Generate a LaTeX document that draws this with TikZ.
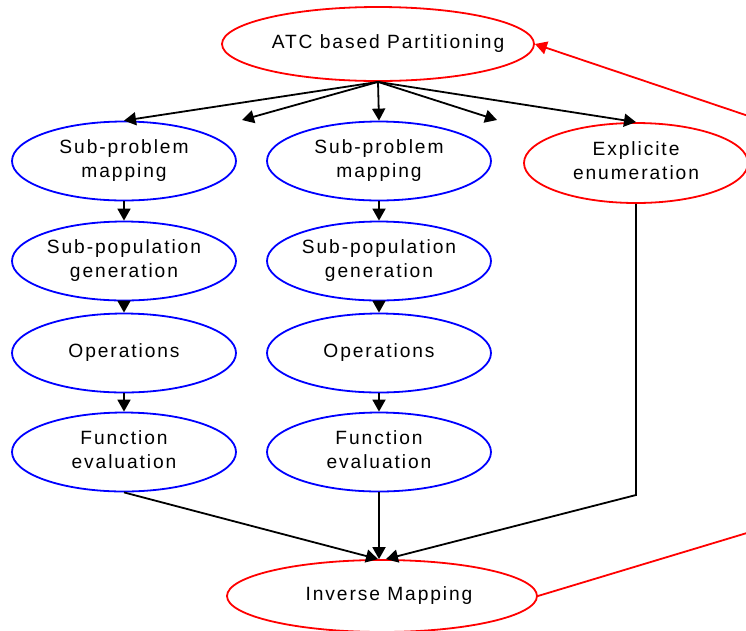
\documentclass[tikz,border=0pt]{standalone}
\usepackage{fontspec}
\setmainfont[LetterSpace=10]{Liberation Sans}
\usetikzlibrary{shapes.geometric,arrows.meta}

% centred text whose width does not enlarge the ellipse;
% the optional argument moves the text right by half its value
\newcommand{\twolines}[2]{\makebox[0pt]{\begin{tabular}{@{}c@{}}#1\\#2\end{tabular}}}
\newcommand{\oneline}[2][0pt]{\makebox[0pt]{\hspace*{#1}#2}}

\tikzset{
  stage/.style={ellipse, draw=blue, line width=1.8pt, inner sep=0pt,
    minimum width=224pt, minimum height=79pt},
  outer/.style={ellipse, draw=red, line width=1.8pt, inner sep=0pt},
  flow/.style={draw=black, line width=1.8pt,
    -{Triangle[length=12pt,width=13pt]}},
  loop/.style={draw=red, line width=1.8pt,
    -{Triangle[length=12pt,width=13pt]}},
}

\begin{document}
\begin{tikzpicture}[x=1pt,y=-1pt,
  every node/.style={font=\fontsize{19.2}{23.5}\selectfont, text=black}]
\clip (0,0) rectangle (746,630);

% top and bottom nodes
\node[outer, minimum width=312pt, minimum height=74pt] (atc) at (378,44)
  {\oneline[20pt]{ATC based Partitioning}};
\node[outer, minimum width=224pt, minimum height=80pt] (enum) at (636,163)
  {\twolines{Explicite}{enumeration}};
\node[outer, minimum width=310pt, minimum height=72pt] (inv) at (382,596)
  {\oneline[14pt]{Inverse Mapping}};

% left column
\node[stage] (a1) at (124,161) {\twolines{Sub-problem}{mapping}};
\node[stage] (a2) at (124,261) {\twolines{Sub-population}{generation}};
\node[stage] (a3) at (124,353) {\oneline{Operations}};
\node[stage] (a4) at (124,452) {\twolines{Function}{evaluation}};

% middle column
\node[stage] (b1) at (379,161) {\twolines{Sub-problem}{mapping}};
\node[stage] (b2) at (379,261) {\twolines{Sub-population}{generation}};
\node[stage] (b3) at (379,353) {\oneline{Operations}};
\node[stage] (b4) at (379,452) {\twolines{Function}{evaluation}};

% open ends of the fan and bends of the feedback loop
\coordinate (gap1) at (242,120);
\coordinate (gap2) at (497,120);
\coordinate (bend) at (636,495);
\coordinate (outlow) at (790,520);
\coordinate (outhigh) at (790,130);

% fan out from the partitioning step
\draw[flow] (atc.south) -- (a1.north);
\draw[flow] (atc.south) -- (gap1);
\draw[flow] (atc.south) -- (b1.north);
\draw[flow] (atc.south) -- (gap2);
\draw[flow] (atc.south) -- (enum.north);

% column chains
\draw[flow] (a1) -- (a2);
\draw[flow] (a2) -- (a3);
\draw[flow] (a3) -- (a4);
\draw[flow] (b1) -- (b2);
\draw[flow] (b2) -- (b3);
\draw[flow] (b3) -- (b4);

% merge into the inverse mapping
\draw[flow] (a4.south) -- ([xshift=-4pt]inv.north);
\draw[flow] (b4.south) -- (b4.south |- inv.north);
\draw[flow] (enum.south) -- (bend) -- ([xshift=4pt]inv.north);

% feedback loop back to the partitioning
\draw[loop] (inv.east) -- (outlow) -- (outhigh) -- (atc.east);
\end{tikzpicture}
\end{document}
